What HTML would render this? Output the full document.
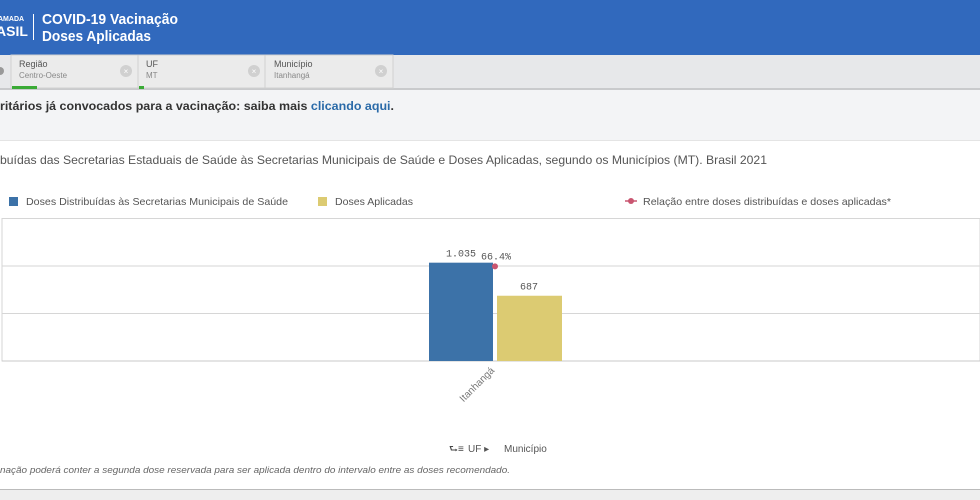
<!DOCTYPE html>
<html><head><meta charset="utf-8"><style>
html,body{margin:0;padding:0;width:980px;height:500px;overflow:hidden;background:#fff}
svg{display:block;font-family:"Liberation Sans",sans-serif}
</style></head><body>
<svg id="page" width="980" height="500" viewBox="0 0 980 500">
<rect x="0" y="0" width="980" height="55" fill="#3169bd"/>
<text x="-2" y="21" fill="#fff" font-size="7" font-weight="bold">AMADA</text>
<text x="-4" y="36" fill="#fff" font-size="14" font-weight="bold">ASIL</text>
<rect x="33" y="14" width="1" height="26" fill="#fff"/>
<text x="42" y="24" fill="#fff" font-size="15" font-weight="bold" textLength="136" lengthAdjust="spacingAndGlyphs">COVID-19 Vacinação</text>
<text x="42" y="41" fill="#fff" font-size="15" font-weight="bold" textLength="109" lengthAdjust="spacingAndGlyphs">Doses Aplicadas</text>

<rect x="0" y="55" width="980" height="35" fill="#e7e8ea"/>
<rect x="0" y="88" width="980" height="2" fill="#c9cacc"/>
<g>
<rect x="11" y="55" width="127" height="33" fill="#ebebeb" stroke="#d0d0d0"/>
<text x="19" y="67" font-size="9" fill="#555">Região</text>
<text x="19" y="78" font-size="8" fill="#888">Centro-Oeste</text>
<circle cx="126" cy="71" r="6" fill="#d0d0d0"/><text x="126" y="74" font-size="8" fill="#fff" text-anchor="middle">×</text>
<rect x="12" y="86" width="25" height="3" fill="#3aaa35"/>
</g>
<g>
<rect x="138" y="55" width="127" height="33" fill="#ebebeb" stroke="#d0d0d0"/>
<text x="146" y="67" font-size="9" fill="#555">UF</text>
<text x="146" y="78" font-size="8" fill="#888">MT</text>
<circle cx="254" cy="71" r="6" fill="#d0d0d0"/><text x="254" y="74" font-size="8" fill="#fff" text-anchor="middle">×</text>
<rect x="139" y="86" width="5" height="3" fill="#3aaa35"/>
</g>
<g>
<rect x="265" y="55" width="128" height="33" fill="#ebebeb" stroke="#d0d0d0"/>
<text x="274" y="67" font-size="9" fill="#555">Município</text>
<text x="274" y="78" font-size="8" fill="#888">Itanhangá</text>
<circle cx="381" cy="71" r="6" fill="#d0d0d0"/><text x="381" y="74" font-size="8" fill="#fff" text-anchor="middle">×</text>
</g>
<circle cx="0" cy="71" r="4" fill="#999"/>

<rect x="0" y="90" width="980" height="50" fill="#f3f4f6"/>
<rect x="0" y="140" width="980" height="1" fill="#e4e4e4"/>
<text x="0" y="110" font-size="12" font-weight="bold" fill="#333" textLength="394" lengthAdjust="spacingAndGlyphs">ritários já convocados para a vacinação: saiba mais <tspan fill="#2a6aa8">clicando aqui</tspan>.</text>

<text x="0" y="164" font-size="12" fill="#555" textLength="767" lengthAdjust="spacingAndGlyphs">buídas das Secretarias Estaduais de Saúde às Secretarias Municipais de Saúde e Doses Aplicadas, segundo os Municípios (MT). Brasil 2021</text>

<g>
<rect x="9" y="197" width="9" height="9" fill="#3c72a8"/>
<text x="26" y="205" font-size="10.5" fill="#555" textLength="262" lengthAdjust="spacingAndGlyphs">Doses Distribuídas às Secretarias Municipais de Saúde</text>
</g>
<g>
<rect x="318" y="197" width="9" height="9" fill="#dccb72"/>
<text x="335" y="205" font-size="10.5" fill="#555" textLength="78" lengthAdjust="spacingAndGlyphs">Doses Aplicadas</text>
</g>
<g>
<line x1="625" y1="201" x2="637" y2="201" stroke="#c95570" stroke-width="1.5"/>
<circle cx="631" cy="201" r="3" fill="#c95570"/>
<text x="643" y="205" font-size="10.5" fill="#555" textLength="248" lengthAdjust="spacingAndGlyphs">Relação entre doses distribuídas e doses aplicadas*</text>
</g>

<g id="plot"></g>

<g>
<text x="449" y="452" font-size="10" fill="#444">⮑≡</text>
<text x="468" y="452" font-size="10" fill="#555">UF ▸</text>
<text x="504" y="452" font-size="10" fill="#555">Município</text>
</g>
<text x="0" y="473" font-size="9.5" font-style="italic" fill="#666" textLength="510" lengthAdjust="spacingAndGlyphs">nação poderá conter a segunda dose reservada para ser aplicada dentro do intervalo entre as doses recomendado.</text>
<rect x="0" y="490" width="980" height="10" fill="#eeeeee"/>
<rect x="0" y="489" width="980" height="1" fill="#bbb"/>
</svg>
<script>
const categories = ["Itanhangá"];
const distribuidas = [1035];
const aplicadas = [687];
const relacao = [66.4];
const yTicks = [0, 500, 1000, 1500];
const distLabels = ["1.035"];
const aplLabels = ["687"];
const relLabels = ["66,4%"];

const NS = "http://www.w3.org/2000/svg";
const plot = document.getElementById("plot");
const x0 = 2, x1 = 980, yBase = 361, yTop = 218.5;
const yMax = 1500;
const y = v => yBase - (v / yMax) * (yBase - yTop);
const yR = p => yBase - (p / 100) * (yBase - yTop);
const band = 130, center0 = 495;
const cx = i => center0 + i * band;

function mk(tag, attrs) { const e = document.createElementNS(NS, tag); for (const k in attrs) e.setAttribute(k, attrs[k]); plot.appendChild(e); return e; }

const frame = mk("rect", {x: x0, y: yTop, width: x1 - x0, height: yBase - yTop, fill: "none", stroke: "#d6d6d6"});


yTicks.forEach(t => {
  if (t === 0 || t === yMax) return;
  const g = mk("line", {x1: x0, x2: x1, y1: y(t), y2: y(t), stroke: "#d6d6d6"});
  
  
});
const base = mk("line", {x1: x0, x2: x1, y1: yBase, y2: yBase, stroke: "#c8c8c8"});



categories.forEach((c, i) => {
  const c0 = cx(i);
  const b1 = mk("rect", {x: c0 - 66, y: y(distribuidas[i]), width: 64, height: yBase - y(distribuidas[i]), fill: "#3c72a8"});
  
  
  const b2 = mk("rect", {x: c0 + 2, y: y(aplicadas[i]), width: 65, height: yBase - y(aplicadas[i]), fill: "#dccb72"});
  
  
  const l1 = mk("text", {x: c0 - 34, y: y(distribuidas[i]) - 6, "font-size": 10, fill: "#555", "text-anchor": "middle", "font-family": "Liberation Mono, monospace"});
  l1.textContent = distLabels[i];
  
  
  const l2 = mk("text", {x: c0 + 34, y: y(aplicadas[i]) - 6, "font-size": 10, fill: "#555", "text-anchor": "middle", "font-family": "Liberation Mono, monospace"});
  l2.textContent = aplLabels[i];
  
  
  const pt = mk("circle", {cx: c0, cy: yR(relacao[i]), r: 3, fill: "#c95570"});
  
  
  const l3 = mk("text", {x: c0 + 1, y: yR(relacao[i]) - 7, "font-size": 10, fill: "#555", "text-anchor": "middle", "font-family": "Liberation Mono, monospace"});
  l3.textContent = relLabels[i].replace(",", ".");
  
  
  const cl = mk("text", {x: c0, y: yBase + 10, "font-size": 10, fill: "#777", "text-anchor": "end", transform: `rotate(-45 ${c0} ${yBase + 10})`});
  cl.textContent = c;
  
  
});
</script>
</body></html>
